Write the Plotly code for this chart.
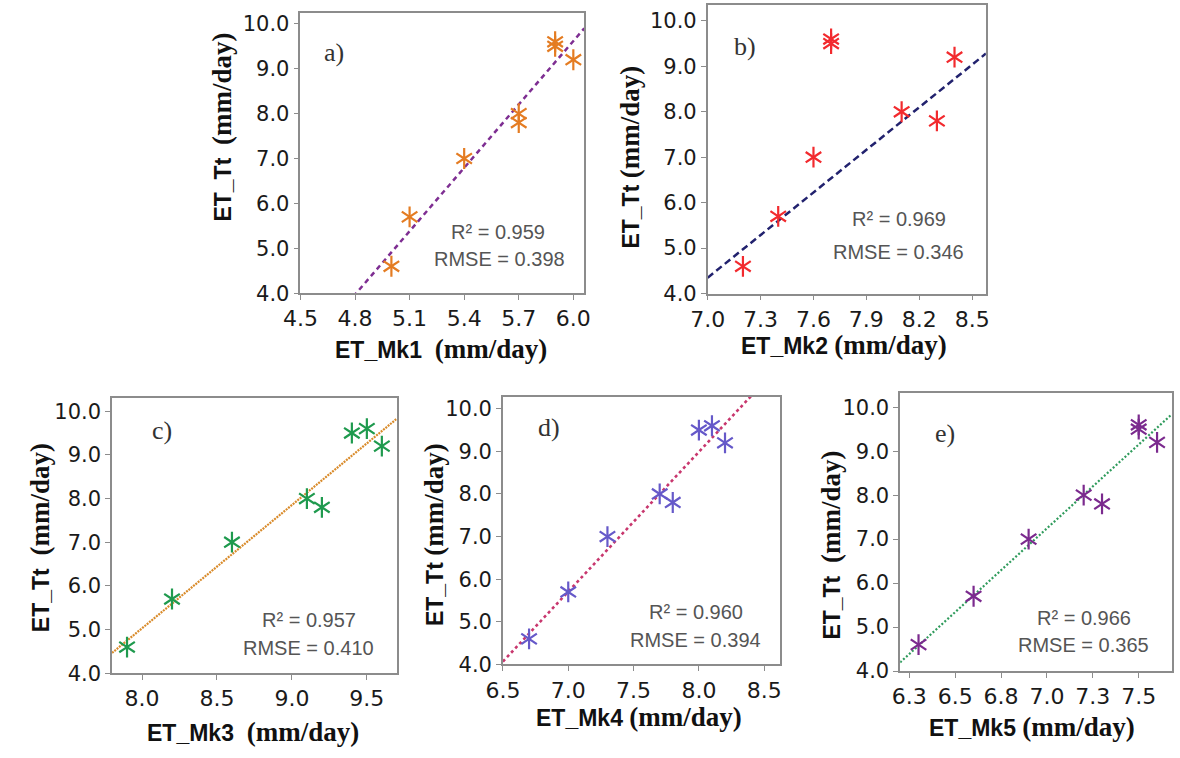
import plotly.graph_objects as go

# ---------------- data ----------------
et_tt = [4.6, 5.7, 7.0, 8.0, 7.8, 9.5, 9.6, 9.2]
et_mk1 = [5.0, 5.1, 5.4, 5.7, 5.7, 5.9, 5.9, 6.0]
et_mk2 = [7.2, 7.4, 7.6, 8.1, 8.3, 7.7, 7.7, 8.4]
et_mk3 = [7.9, 8.2, 8.6, 9.1, 9.2, 9.4, 9.5, 9.6]
et_mk4 = [6.7, 7.0, 7.3, 7.7, 7.8, 8.0, 8.1, 8.2]
et_mk5 = [6.3, 6.6, 6.9, 7.2, 7.3, 7.5, 7.5, 7.6]

fit_slope = [4.706, 3.124, 2.822, 3.279, 3.811]
fit_intercept = [-18.62, -17.518, -17.546, -17.245, -19.431]

panel_letters = ["a)", "b)", "c)", "d)", "e)"]
x_names = ["ET_Mk1", "ET_Mk2", "ET_Mk3", "ET_Mk4", "ET_Mk5"]
r2_text = ["R² = 0.959", "R² = 0.969", "R² = 0.957", "R² = 0.960", "R² = 0.966"]
rmse_text = ["RMSE = 0.398", "RMSE = 0.346", "RMSE = 0.410", "RMSE = 0.394", "RMSE = 0.365"]

e_tickvals = [6.25, 6.5, 6.75, 7.0, 7.25, 7.5]
e_ticktext = ["6.3", "6.5", "6.8", "7.0", "7.3", "7.5"]

# ---------------- layout / style ----------------
W, H = 1180, 758
xs_all = [et_mk1, et_mk2, et_mk3, et_mk4, et_mk5]

# pixel frames: left, right, top, bottom
frames = [
    (288.3, 578.0, 12.7, 297.3),
    (704.0, 988.0, 4.0, 297.7),
    (96.0, 386.7, 404.0, 684.0),
    (495.0, 777.7, 402.7, 675.0),
    (900.5, 1177.7, 399.0, 681.7),
]
xranges = [[4.5, 6.06], [7.0, 8.578], [7.8, 9.7], [6.5, 8.62], [6.2, 7.68]]
yranges = [[4.0, 10.23], [4.0, 10.35], [4.0, 10.3], [4.0, 10.28], [4.0, 10.32]]
xdticks = [0.3, 0.3, 0.5, 0.5, None]
xtick0 = [4.5, 7.0, 8.0, 6.5, None]

marker_colors = ["#E47C22", "#F22A2E", "#1F9A4E", "#6659C9", "#7B2A8E"]
line_colors = ["#7E2E92", "#22226E", "#D98B2B", "#C8376E", "#2F9B5C"]
line_dash = ["5px,4px", "7px,4px", "2px,1px", "3px,3px", "2px,2px"]
line_width = [2.5, 2.5, 2.2, 2.6, 2.2]

ytitle_pos = [(208, 128), (625, 159), (22, 546), (424, 543), (830, 554)]
xtitle_pos = [(432, 354), (843, 350), (240, 744), (634, 728), (1035, 739)]
ytitle_gap = [2, 1, 2, 1, 2]
xtitle_gap = [2, 1, 2, 1, 1]
letter_pos = [(323, 52), (742, 46), (147, 437), (542, 434), (946, 440)]
r2_pos = [(490, 235), (899, 222), (297, 630), (692, 622), (1088, 628)]
rmse_pos = [(492, 263), (899, 255), (297, 658), (692, 650), (1088, 655)]

fig = go.Figure()
annotations = []

def px(x):
    return x / W

def py(y):
    return 1 - y / H

serif = "Liberation Serif"
sans = "Liberation Sans"
tickfont = "DejaVu Sans"

for i in range(5):
    n = "" if i == 0 else str(i + 1)
    xa, ya = "x" + n, "y" + n
    xs = xs_all[i]
    # fitted line across the axis range
    x0, x1 = xranges[i]
    lx = [x0, x1]
    ly = [fit_slope[i] * v + fit_intercept[i] for v in lx]
    fig.add_trace(go.Scatter(
        x=lx, y=ly, mode="lines", xaxis=xa, yaxis=ya, showlegend=False,
        line=dict(color=line_colors[i], dash=line_dash[i], width=line_width[i]),
        hoverinfo="skip"))
    for sym in ["y-up-open", "y-down-open"]:
        fig.add_trace(go.Scatter(
            x=xs, y=et_tt, mode="markers", xaxis=xa, yaxis=ya, showlegend=False,
            marker=dict(symbol=sym, size=13, color=marker_colors[i],
                        line=dict(width=2.2, color=marker_colors[i]))))

    l, r, t, b = frames[i]
    xaxis = dict(
        domain=[px(l), px(r)], anchor=ya, range=xranges[i],
        showline=True, mirror=True, linecolor="#8c8c8c", linewidth=1.5,
        ticks="outside", ticklen=5, tickcolor="#8c8c8c", tickwidth=1.2,
        showgrid=False, zeroline=False,
        tickfont=dict(family=tickfont, size=22, color="#1a1a1a"),
        tickformat=".1f",
    )
    if xdticks[i] is not None:
        xaxis.update(dtick=xdticks[i], tick0=xtick0[i])
    else:
        xaxis.update(tickmode="array", tickvals=e_tickvals, ticktext=e_ticktext)
    yaxis = dict(
        domain=[py(b), py(t)], anchor=xa, range=yranges[i],
        showline=True, mirror=True, linecolor="#8c8c8c", linewidth=1.5,
        ticks="outside", ticklen=5, tickcolor="#8c8c8c", tickwidth=1.2,
        showgrid=False, zeroline=False, dtick=1.0, tick0=4.0,
        tickfont=dict(family=tickfont, size=21, color="#1a1a1a"),
        tickformat=".1f",
    )
    fig.update_layout(**{"xaxis" + n: xaxis, "yaxis" + n: yaxis})

    # titles
    unit = "<span style='font-family:Liberation Serif;font-size:27px'><b>(mm/day)</b></span>"
    yt = "<b>ET_Tt</b>" + "&nbsp;" * ytitle_gap[i] + unit
    xt = "<b>" + x_names[i] + "</b>" + "&nbsp;" * xtitle_gap[i] + unit
    annotations.append(dict(
        x=px(ytitle_pos[i][0]), y=py(ytitle_pos[i][1]), xref="paper", yref="paper",
        text=yt, textangle=-90, showarrow=False, xanchor="center", yanchor="middle",
        font=dict(family=sans, size=23, color="#111111")))
    annotations.append(dict(
        x=px(xtitle_pos[i][0]), y=py(xtitle_pos[i][1]), xref="paper", yref="paper",
        text=xt, showarrow=False, xanchor="center", yanchor="middle",
        font=dict(family=sans, size=23, color="#111111")))
    annotations.append(dict(
        x=px(letter_pos[i][0]), y=py(letter_pos[i][1]), xref="paper", yref="paper",
        text=panel_letters[i], showarrow=False, xanchor="center", yanchor="middle",
        font=dict(family=serif, size=26, color="#333333")))
    annotations.append(dict(
        x=px(r2_pos[i][0]), y=py(r2_pos[i][1]), xref="paper", yref="paper",
        text=r2_text[i], showarrow=False, xanchor="center", yanchor="middle",
        font=dict(family=sans, size=20, color="#555555")))
    annotations.append(dict(
        x=px(rmse_pos[i][0]), y=py(rmse_pos[i][1]), xref="paper", yref="paper",
        text=rmse_text[i], showarrow=False, xanchor="center", yanchor="middle",
        font=dict(family=sans, size=20, color="#555555")))

fig.update_layout(
    width=W, height=H, margin=dict(l=0, r=0, t=0, b=0),
    paper_bgcolor="white", plot_bgcolor="white",
    annotations=annotations, showlegend=False,
)

fig.write_html("out.html")
